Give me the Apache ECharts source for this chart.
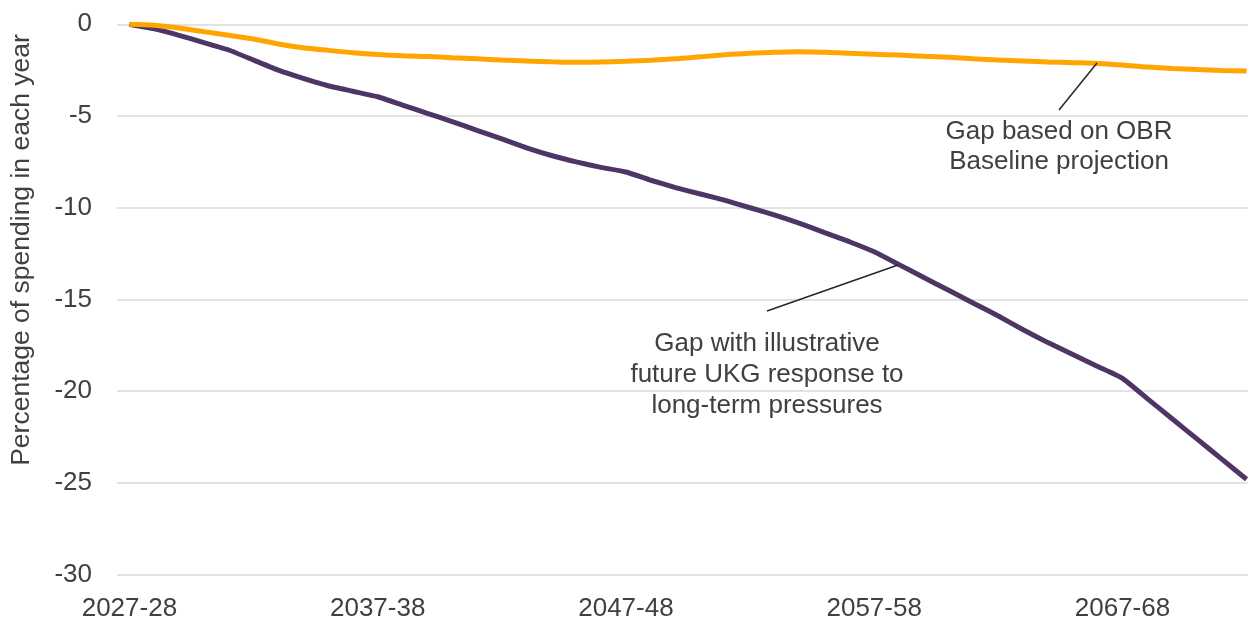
<!DOCTYPE html>
<html>
<head>
<meta charset="utf-8">
<script src="https://cdn.jsdelivr.net/npm/echarts@6/dist/echarts.min.js"></script>
<style>
html,body{margin:0;padding:0;background:#fff;}
#chart{width:1248px;height:619px;}
</style>
</head>
<body>
<div id="chart"></div>
<script>
const years = [];
for (let y = 2027; y <= 2072; y++) { years.push(y + '-' + String((y + 1) % 100).padStart(2, '0')); }

const obrBaseline = [0, -0.05, -0.2, -0.4, -0.6, -0.8, -1.07, -1.28, -1.42, -1.55,
  -1.65, -1.72, -1.76, -1.82, -1.88, -1.95, -2.0, -2.04, -2.07, -2.06,
  -2.02, -1.96, -1.88, -1.77, -1.66, -1.58, -1.52, -1.49, -1.52, -1.58,
  -1.63, -1.68, -1.74, -1.8, -1.88, -1.95, -2.0, -2.05, -2.09, -2.13,
  -2.22, -2.33, -2.41, -2.47, -2.52, -2.55];

const ukgResponse = [0, -0.25, -0.6, -1.0, -1.4, -1.95, -2.5, -2.95, -3.35, -3.65,
  -3.95, -4.4, -4.85, -5.3, -5.78, -6.25, -6.73, -7.15, -7.5, -7.8,
  -8.05, -8.5, -8.9, -9.25, -9.6, -10.0, -10.4, -10.85, -11.35, -11.85,
  -12.4, -13.1, -13.8, -14.5, -15.2, -15.9, -16.65, -17.35, -18.0, -18.65,
  -19.3, -20.4, -21.5, -22.6, -23.7, -24.8];

const yAxisTitle = 'Percentage of spending in each year';
const obrLabel = 'Gap based on OBR\nBaseline projection';
const ukgLabel = 'Gap with illustrative\nfuture UKG response to\nlong-term pressures';

const FONT = '"Liberation Sans", Arial, sans-serif';
const TXT = '#404040';
const FS = 26;

const chart = echarts.init(document.getElementById('chart'), null, {renderer: 'canvas'});
chart.setOption({
  animation: false,
  backgroundColor: '#ffffff',
  grid: {left: 117, top: 24.3, width: 1142, bottom: 44.3, containLabel: false, outerBoundsMode: 'none'},
  xAxis: {
    type: 'category',
    data: years,
    boundaryGap: true,
    axisLine: {show: false},
    axisTick: {show: false},
    axisLabel: {interval: 9, color: TXT, fontFamily: FONT, fontSize: FS, margin: 21},
    splitLine: {show: false}
  },
  yAxis: {
    type: 'value',
    min: -30, max: 0, interval: 5,
    axisLine: {show: false},
    axisTick: {show: false},
    axisLabel: {color: TXT, fontFamily: FONT, fontSize: FS, margin: 25},
    splitLine: {show: true, lineStyle: {color: '#d9d9d9', width: 1.5}}
  },
  series: [
    {
      name: 'OBR Baseline', type: 'line', data: obrBaseline, smooth: 0.3,
      symbol: 'none', lineStyle: {color: '#FFA500', width: 5}, z: 3
    },
    {
      name: 'UKG response', type: 'line', data: ukgResponse, smooth: 0.15,
      symbol: 'none', lineStyle: {color: '#4F3466', width: 5}, z: 2
    }
  ],
  graphic: [
    {
      type: 'text', x: 22, y: 250, rotation: Math.PI / 2,
      style: {text: yAxisTitle, fill: TXT, font: '26.5px ' + FONT, align: 'center', verticalAlign: 'middle'}
    },
    {
      type: 'text', x: 1059, y: 147,
      style: {text: obrLabel, fill: TXT, font: FS + 'px ' + FONT, align: 'center', verticalAlign: 'middle', lineHeight: 30}
    },
    {
      type: 'text', x: 767, y: 375,
      style: {text: ukgLabel, fill: TXT, font: FS + 'px ' + FONT, align: 'center', verticalAlign: 'middle', lineHeight: 31}
    },
    {
      type: 'line', shape: {x1: 1059, y1: 110, x2: 1097, y2: 63},
      style: {stroke: '#262626', lineWidth: 1.5}, z: 10
    },
    {
      type: 'line', shape: {x1: 767, y1: 311, x2: 898, y2: 265},
      style: {stroke: '#262626', lineWidth: 1.5}, z: 10
    }
  ]
});
</script>
</body>
</html>
